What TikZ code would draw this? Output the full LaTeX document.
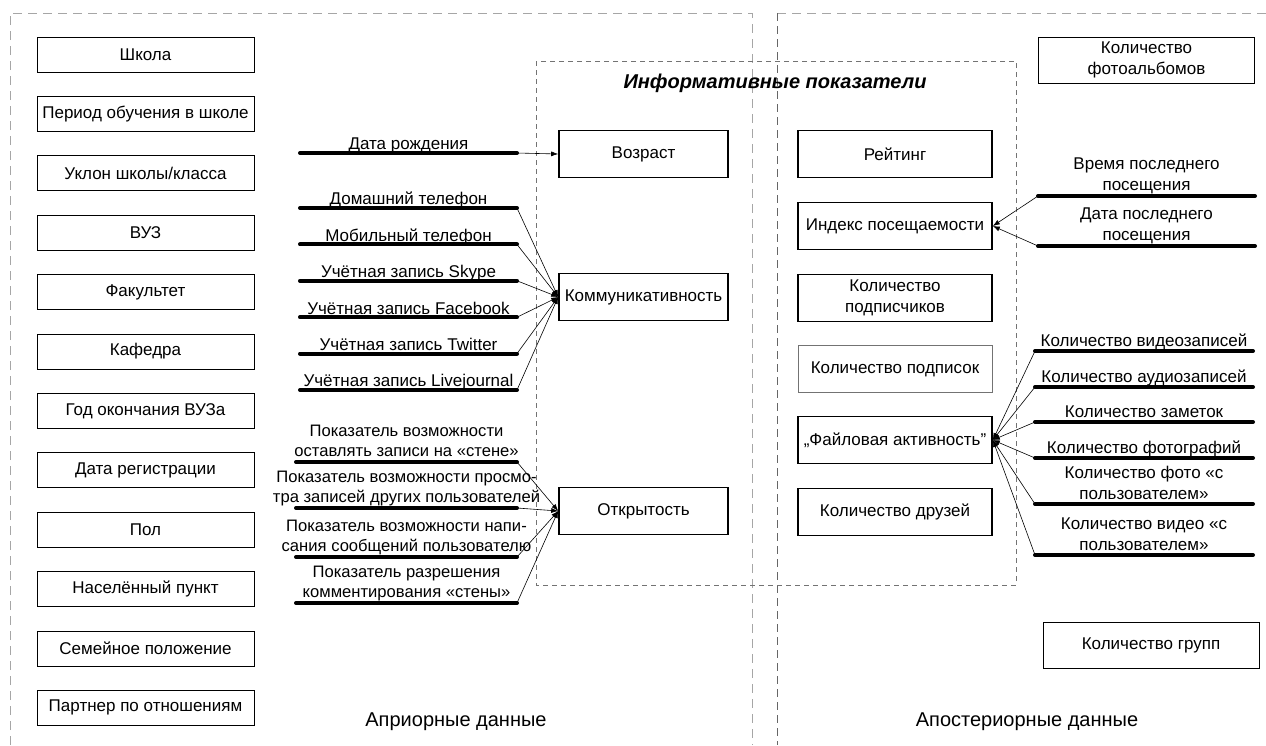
\documentclass[tikz,border=0pt]{standalone}
\usepackage{fontspec}
\setmainfont{Liberation Sans}
\usepackage{tikz}
\usetikzlibrary{shapes,backgrounds,arrows.meta}

\begin{document}
\begin{tikzpicture}[x=1pt, y=-1pt,
		font=\fontsize{17}{21}\selectfont,
		frame/.style={draw=black!35, line width=1pt, dash pattern=on 9pt off 6pt},
		framedark/.style={draw=black!60, line width=0.8pt, dash pattern=on 8pt off 5pt},
		infoframe/.style={draw=black!55, line width=0.8pt, dash pattern=on 5pt off 4pt},
		databox/.style={draw, line width=0.8pt, minimum width=217pt, minimum height=35pt, inner sep=2pt},
		keybox/.style={draw, line width=1.6pt, minimum height=47pt, inner sep=2pt, align=center},
		sidebox/.style={draw, line width=0.8pt, minimum width=216pt, minimum height=46pt, align=center},
		feed/.style={line width=4pt, line cap=round},
		feedtext/.style={anchor=south, inner sep=0pt, text depth=0pt, align=center},
		link/.style={-{Latex[length=7pt,width=5pt]}, line width=0.6pt}
	]
			\useasboundingbox (0,0) rectangle (1266,745);
			% frames
			\draw[frame] (10,745) -- (10,13) -- (752,13) -- (752,745);
			\draw[frame] (777,13) -- (1266,13);
			\draw[framedark] (777,13) -- (777,745);
			\draw[infoframe] (536,61) rectangle (1016,585);
			\node[font=\fontsize{20}{24}\selectfont\bfseries\itshape] (info) at (775,83) {Информативные показатели};
			\node[font=\fontsize{20}{24}\selectfont] (prior) at (456,722) {Априорные данные};
			\node[font=\fontsize{20}{24}\selectfont] (post) at (1027,722) {Апостериорные данные};
			% a priori data
			\foreach \name [count=\i from 0] in {Школа, Период обучения в школе, Уклон школы/класса, ВУЗ, Факультет, Кафедра, Год окончания ВУЗа, Дата регистрации, Пол, Населённый пункт, Семейное положение, Партнер по отношениям}
			\node[databox] (pre\i) at (145.5, 54.5+59.4*\i) {\name};
			% key indicators
			\node[keybox, minimum width=169pt] (age) at (643.5,154) {Возраст};
			\node[keybox, minimum width=169pt] (comm) at (643.5,297) {Коммуникативность};
			\node[keybox, minimum width=169pt] (open) at (643.5,511) {Открытость};
			\node[keybox, minimum width=194pt] (rating) at (895,154) {Рейтинг};
			\node[keybox, minimum width=194pt] (visits) at (895,226) {Индекс посещаемости};
			\node[keybox, minimum width=194pt] (subscribers) at (895,298) {Количество\\подписчиков};
			\node[keybox, minimum width=194pt, draw=black!55, line width=1pt] (subscriptions) at (895,369) {Количество подписок};
			\node[keybox, minimum width=194pt] (files) at (895,440) {„Файловая активность”};
			\node[keybox, minimum width=194pt] (friends) at (895,512) {Количество друзей};
			% a posteriori data
			\node[sidebox] (albums) at (1146.5,60) {Количество\\фотоальбомов};
			\node[sidebox] (groups) at (1151,645) {Количество групп};
			% birth date
			\coordinate (dob-l) at (300,153);
			\coordinate (dob-r) at (517,153);
			\draw[feed] (dob-l) -- (dob-r);
			\node[feedtext] (dob-t) at (408.5,150) {Дата рождения};
			\draw[link] (dob-r) -- (age.west);
			% contacts
			\foreach \y/\txt [count=\i] in {208/Домашний телефон, 244.4/Мобильный телефон, 280.8/Учётная запись Skype, 317.2/Учётная запись Facebook, 353.6/Учётная запись Twitter, 390/Учётная запись Livejournal}
			{
				\coordinate (com-\i-l) at (300,\y);
				\coordinate (com-\i-r) at (517,\y);
				\draw[feed] (com-\i-l) -- (com-\i-r);
				\node[feedtext] (com-\i-t) at (408.5,\y-3) {\txt};
				\draw[link] (com-\i-r) -- (comm.west);
			}
			% privacy
			\foreach \y/\txt [count=\i] in {462/{Показатель возможности\\оставлять записи на «стене»}, 508/{Показатель возможности просмо-\\тра записей других пользователей}, 557/{Показатель возможности напи-\\сания сообщений пользователю}, 603/{Показатель разрешения\\комментирования «стены»}}
			{
				\coordinate (opn-\i-l) at (296,\y);
				\coordinate (opn-\i-r) at (517,\y);
				\draw[feed] (opn-\i-l) -- (opn-\i-r);
				\node[feedtext, font=\fontsize{16.6}{20.5}\selectfont] (opn-\i-t) at (406.5,\y-5) {\txt};
				\draw[link] (opn-\i-r) -- (open.west);
			}
			% visits
			\foreach \y/\txt [count=\i] in {196/{Время последнего\\посещения}, 246/{Дата последнего\\посещения}}
			{
				\coordinate (vis-\i-l) at (1038,\y);
				\coordinate (vis-\i-r) at (1255,\y);
				\draw[feed] (vis-\i-l) -- (vis-\i-r);
				\node[feedtext] (vis-\i-t) at (1146.5,\y-5) {\txt};
				\draw[link] (vis-\i-l) -- (visits.east);
			}
			% files
			\foreach \y/\txt [count=\i] in {351/Количество видеозаписей, 387/Количество аудиозаписей, 422/Количество заметок, 458/Количество фотографий, 504/{Количество фото «с\\пользователем»}, 555/{Количество видео «с\\пользователем»}}
			{
				\coordinate (fil-\i-l) at (1035,\y);
				\coordinate (fil-\i-r) at (1253,\y);
				\draw[feed] (fil-\i-l) -- (fil-\i-r);
				\node[feedtext] (fil-\i-t) at (1144,\y-4) {\txt};
				\draw[link] (fil-\i-l) -- (files.east);
			}
		\end{tikzpicture}
\end{document}
